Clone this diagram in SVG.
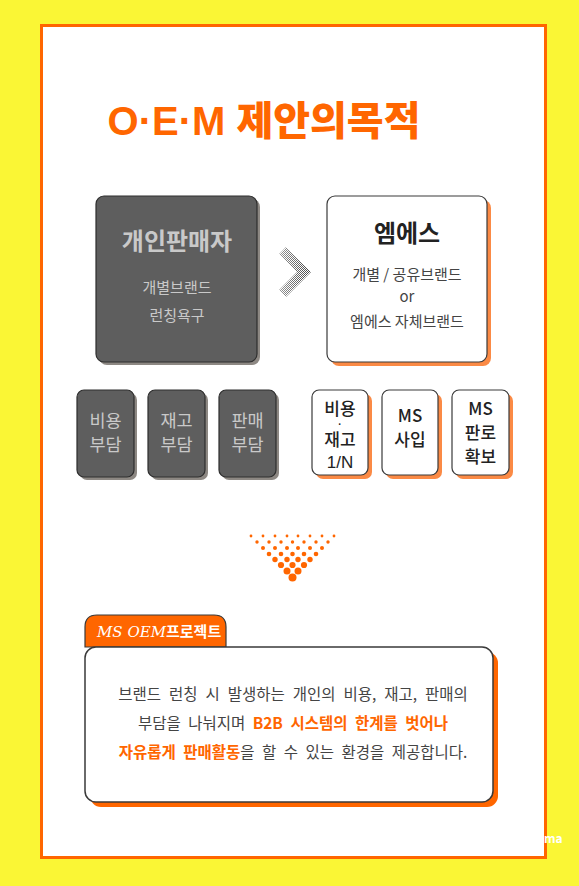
<svg xmlns="http://www.w3.org/2000/svg" width="579" height="886" viewBox="0 0 579 886">
<style>
.k{font-family:"Noto Sans CJK KR","Noto Sans",sans-serif}
.lk{font-family:"Liberation Sans","Noto Sans CJK KR",sans-serif}
.c{text-anchor:middle}
.gbox{fill:#5e5e5e;stroke:#2e2e2e;stroke-width:1.2}
.gsh{fill:#8d8883}
.wbox{fill:#fff;stroke:#3a3a3a;stroke-width:1.2}
.osh{fill:#fb8a45}
.gt{fill:#c9c9c9}
.dk{fill:#222}
.bt{fill:#444}
.or{fill:#ff6600;font-weight:700}
</style>
<defs>
<pattern id="ht" width="2" height="2" patternUnits="userSpaceOnUse">
<rect width="1" height="1" fill="#444"/><rect x="1" y="1" width="1" height="1" fill="#444"/>
</pattern>
<linearGradient id="fade" x1="0" y1="0" x2="1" y2="0">
<stop offset="0" stop-color="#fff" stop-opacity="0.55"/><stop offset="1" stop-color="#fff" stop-opacity="1"/>
</linearGradient>
<mask id="chm" maskContentUnits="objectBoundingBox"><rect width="1" height="1" fill="url(#fade)"/></mask>
</defs>
<rect width="579" height="886" fill="#faf635"/>
<rect x="41.5" y="25.5" width="504" height="832" fill="#fff" stroke="#ff6600" stroke-width="3"/>
<text x="264" y="135" font-size="40" font-weight="900" fill="#ff6600" text-anchor="middle" font-family="'Liberation Sans','Noto Sans CJK KR',sans-serif">O·E·M 제안의목적</text>

<g id="seller">
<rect class="gsh" x="99" y="199" width="161" height="166" rx="8"/>
<rect class="gbox" x="96" y="196" width="161" height="166" rx="8"/>
<text class="k c gt" x="177" y="250" font-size="24" font-weight="700">개인판매자</text>
<text class="k c gt" x="177" y="293" font-size="15">개별브랜드</text>
<text class="k c gt" x="177" y="321" font-size="15">런칭욕구</text>
</g>

<g id="arrow">
<polygon points="279,254 286,247 311,272 286,297 279,290 297,272" fill="url(#ht)" mask="url(#chm)"/>
</g>

<g id="ms">
<rect class="osh" x="331" y="200" width="160" height="166" rx="8"/>
<rect class="wbox" x="327" y="196" width="160" height="166" rx="8"/>
<text class="k c dk" x="407" y="242" font-size="24" font-weight="700">엠에스</text>
<text class="k c bt" x="407" y="280" font-size="15">개별 / 공유브랜드</text>
<text class="k c bt" x="407" y="302" font-size="15">or</text>
<text class="k c bt" x="407" y="327" font-size="15">엠에스 자체브랜드</text>
</g>

<g id="cost">
<rect class="gsh" x="80" y="393" width="57" height="87" rx="7"/>
<rect class="gbox" x="77" y="390" width="57" height="87" rx="7"/>
<text class="k c gt" x="105.5" y="427" font-size="17.5">비용</text>
<text class="k c gt" x="105.5" y="451" font-size="17.5">부담</text>
</g>
<g id="stock">
<rect class="gsh" x="151" y="393" width="57" height="87" rx="7"/>
<rect class="gbox" x="148" y="390" width="57" height="87" rx="7"/>
<text class="k c gt" x="176.5" y="427" font-size="17.5">재고</text>
<text class="k c gt" x="176.5" y="451" font-size="17.5">부담</text>
</g>
<g id="sales">
<rect class="gsh" x="222" y="393" width="57" height="87" rx="7"/>
<rect class="gbox" x="219" y="390" width="57" height="87" rx="7"/>
<text class="k c gt" x="247.5" y="427" font-size="17.5">판매</text>
<text class="k c gt" x="247.5" y="451" font-size="17.5">부담</text>
</g>

<g id="share">
<rect class="osh" x="316" y="394" width="56" height="85" rx="7"/>
<rect class="wbox" x="312" y="390" width="56" height="85" rx="7"/>
<text class="lk c dk" x="340" y="415" font-size="17" font-weight="500">비용</text>
<text class="lk c dk" x="340" y="428" font-size="10" font-weight="700">·</text>
<text class="lk c dk" x="340" y="446" font-size="17" font-weight="500">재고</text>
<text class="lk c dk" x="340" y="468" font-size="17">1/N</text>
</g>
<g id="buy">
<rect class="osh" x="386" y="394" width="56" height="85" rx="7"/>
<rect class="wbox" x="382" y="390" width="56" height="85" rx="7"/>
<text class="k c dk" x="410" y="422" font-size="17" font-weight="500">MS</text>
<text class="k c dk" x="410" y="446" font-size="17" font-weight="500">사입</text>
</g>
<g id="channel">
<rect class="osh" x="456" y="394" width="57" height="85" rx="7"/>
<rect class="wbox" x="452" y="390" width="57" height="85" rx="7"/>
<text class="k c dk" x="480.5" y="415" font-size="17" font-weight="500">MS</text>
<text class="k c dk" x="480.5" y="439" font-size="17" font-weight="500">판로</text>
<text class="k c dk" x="480.5" y="463" font-size="17" font-weight="500">확보</text>
</g>

<g id="dots" fill="#ff6600">
<circle cx="251" cy="536" r="1.4"/><circle cx="263" cy="536" r="1.4"/><circle cx="275" cy="536" r="1.4"/><circle cx="287" cy="536" r="1.4"/><circle cx="298" cy="536" r="1.4"/><circle cx="310" cy="536" r="1.4"/><circle cx="322" cy="536" r="1.4"/><circle cx="334" cy="536" r="1.4"/>
<circle cx="257" cy="542" r="1.7"/><circle cx="269" cy="542" r="1.7"/><circle cx="281" cy="542" r="1.7"/><circle cx="292.5" cy="542" r="1.7"/><circle cx="304" cy="542" r="1.7"/><circle cx="316" cy="542" r="1.7"/><circle cx="328" cy="542" r="1.7"/>
<circle cx="263" cy="548" r="2"/><circle cx="275" cy="548" r="2"/><circle cx="287" cy="548" r="2"/><circle cx="298" cy="548" r="2"/><circle cx="310" cy="548" r="2"/><circle cx="322" cy="548" r="2"/>
<circle cx="269" cy="554" r="2.3"/><circle cx="281" cy="554" r="2.3"/><circle cx="292.5" cy="554" r="2.3"/><circle cx="304" cy="554" r="2.3"/><circle cx="316" cy="554" r="2.3"/>
<circle cx="275" cy="559.5" r="2.7"/><circle cx="287" cy="559.5" r="2.7"/><circle cx="298" cy="559.5" r="2.7"/><circle cx="310" cy="559.5" r="2.7"/>
<circle cx="281" cy="565" r="3.1"/><circle cx="292.5" cy="565" r="3.1"/><circle cx="304" cy="565" r="3.1"/>
<circle cx="287" cy="571" r="3.5"/><circle cx="298" cy="571" r="3.5"/>
<circle cx="292.5" cy="577.5" r="4"/>
</g>

<g id="project">
<rect x="90" y="652" width="408" height="155" rx="11" fill="#ff6600"/>
<path d="M85,647 V627 Q85,615 97,615 H214 Q226,615 226,627 V647 Z" fill="#ff6600" stroke="#3a3a3a" stroke-width="1.2"/>
<rect x="85" y="647" width="408" height="155" rx="11" fill="#fff" stroke="#3a3a3a" stroke-width="1.5"/>
<text x="97" y="637" font-size="15" fill="#fff"><tspan font-family="'DejaVu Serif',serif" font-style="italic">MS OEM</tspan><tspan font-family="'Noto Sans CJK KR',sans-serif" font-weight="700">프로젝트</tspan></text>
<text class="k c bt" x="293" y="700" font-size="15.5" word-spacing="4.5">브랜드 런칭 시 발생하는 개인의 비용, 재고, 판매의</text>
<text class="k c bt" x="293" y="729" font-size="15.5" word-spacing="4">부담을 나눠지며 <tspan class="or">B2B 시스템의 한계를 벗어나</tspan></text>
<text class="k c bt" x="293" y="758" font-size="15.5" word-spacing="4"><tspan class="or">자유롭게 판매활동</tspan>을 할 수 있는 환경을 제공합니다.</text>
</g>
<text class="k" x="544" y="843" font-size="12" font-weight="700" fill="#fff">ma</text>
</svg>
